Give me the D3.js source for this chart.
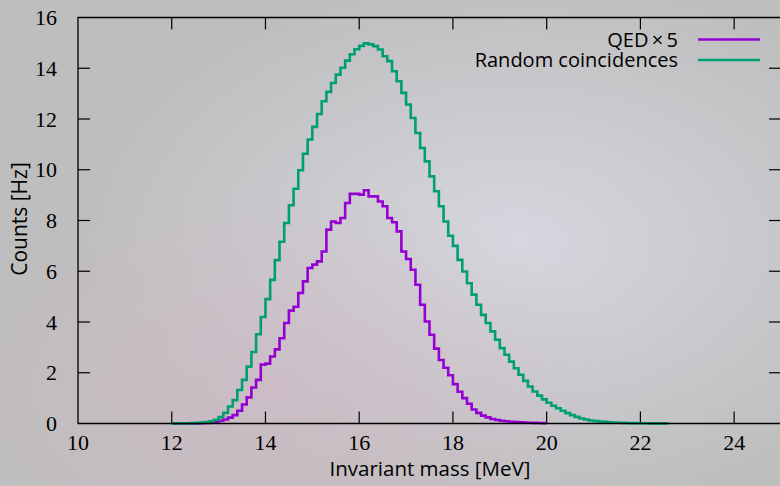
<!DOCTYPE html>
<html>
<head>
<meta charset="utf-8">
<script src="https://cdn.jsdelivr.net/npm/d3@7"></script>
<style>
  html, body { margin: 0; padding: 0; background: #bdbdbd; }
  svg { display: block; }
</style>
</head>
<body>
<div id="chart"></div>
<script>
// histogram bins, 0.1 MeV wide
var binWidth = 0.1;
var qedStart = 12.0;
var qedValues = [
  0.00, 0.00, 0.00, 0.00, 0.00, 0.005, 0.01, 0.02, 0.04, 0.07,
  0.11, 0.16, 0.23, 0.33, 0.50, 0.75, 1.03, 1.42, 1.72, 2.32,
  2.36, 2.64, 2.92, 3.36, 3.96, 4.45, 4.60, 5.14, 5.60, 6.13,
  6.26, 6.39, 6.78, 7.64, 7.96, 7.90, 8.10, 8.69, 9.05, 9.05,
  9.02, 9.19, 8.95, 8.95, 8.75, 8.56, 8.10, 7.93, 7.57, 6.78,
  6.48, 6.06, 5.47, 4.68, 4.02, 3.50, 2.95, 2.50, 2.20, 1.90,
  1.55, 1.25, 1.00, 0.78, 0.55, 0.42, 0.31, 0.24, 0.18, 0.14,
  0.11, 0.09, 0.07, 0.06, 0.05, 0.04, 0.03, 0.025, 0.02, 0.015
];
var randomStart = 12.0;
var randomValues = [
  0.00, 0.003, 0.006, 0.01, 0.016, 0.025, 0.04, 0.06, 0.09, 0.15,
  0.25, 0.42, 0.67, 0.92, 1.32, 1.72, 2.24, 2.82, 3.52, 4.20,
  4.90, 5.66, 6.44, 7.16, 7.90, 8.60, 9.25, 9.98, 10.63, 11.19,
  11.69, 12.20, 12.70, 13.07, 13.42, 13.75, 14.02, 14.30, 14.55, 14.75,
  14.88, 14.98, 14.94, 14.87, 14.74, 14.47, 14.28, 13.88, 13.49, 13.03,
  12.57, 12.04, 11.45, 10.86, 10.33, 9.74, 9.15, 8.56, 7.96, 7.40,
  7.00, 6.45, 5.99, 5.53, 5.08, 4.68, 4.28, 3.96, 3.63, 3.30,
  2.97, 2.71, 2.44, 2.18, 1.92, 1.68, 1.46, 1.26, 1.10, 0.95,
  0.82, 0.70, 0.60, 0.50, 0.41, 0.33, 0.26, 0.20, 0.16, 0.12,
  0.10, 0.08, 0.065, 0.05, 0.04, 0.032, 0.026, 0.02, 0.016, 0.012,
  0.01, 0.008, 0.006, 0.005, 0.004, 0.003
];
var xTicks = [10, 12, 14, 16, 18, 20, 22, 24];
var yTicks = [0, 2, 4, 6, 8, 10, 12, 14, 16];
var seriesNames = ['QED\u2009\u00d7\u20095', 'Random coincidences'];
var seriesColors = ['#9400d3', '#009e73'];

var width = 780, height = 486;
var plotLeft = 78, plotRight = 781, plotTop = 17.5, plotBottom = 423.5;
var tickLen = 12;

var svg = d3.select('#chart').append('svg')
  .attr('width', width)
  .attr('height', height);

// grey backdrop with soft light patches
var defs = svg.append('defs');
var g1 = defs.append('radialGradient').attr('id', 'glow')
  .attr('cx', 0.66).attr('cy', 0.5).attr('r', 0.55);
g1.append('stop').attr('offset', '0%').attr('stop-color', '#d6d7df').attr('stop-opacity', 1);
g1.append('stop').attr('offset', '100%').attr('stop-color', '#d6d7df').attr('stop-opacity', 0);
var g2 = defs.append('radialGradient').attr('id', 'pink')
  .attr('cx', 0.35).attr('cy', 0.8).attr('r', 0.45);
g2.append('stop').attr('offset', '0%').attr('stop-color', '#d2b9c6').attr('stop-opacity', 0.6);
g2.append('stop').attr('offset', '100%').attr('stop-color', '#d2b9c6').attr('stop-opacity', 0);

svg.append('rect').attr('width', width).attr('height', height).attr('fill', '#bebebe');
svg.append('rect').attr('width', width).attr('height', height).attr('fill', 'url(#glow)');
svg.append('rect').attr('width', width).attr('height', height).attr('fill', 'url(#pink)');

var x = d3.scaleLinear().domain([10, 25]).range([plotLeft, plotRight]);
var y = d3.scaleLinear().domain([0, 16]).range([plotBottom, plotTop]);

// ticks, inward, mirrored on top/right
var axes = svg.append('g').attr('stroke', '#000').attr('stroke-width', 1.2);
xTicks.forEach(function(t) {
  if (t === 10) return;
  axes.append('line').attr('x1', x(t)).attr('x2', x(t)).attr('y1', plotBottom).attr('y2', plotBottom - tickLen);
  axes.append('line').attr('x1', x(t)).attr('x2', x(t)).attr('y1', plotTop).attr('y2', plotTop + tickLen);
});
yTicks.forEach(function(t) {
  if (t === 0 || t === 16) return;
  axes.append('line').attr('x1', plotLeft).attr('x2', plotLeft + tickLen).attr('y1', y(t)).attr('y2', y(t));
  axes.append('line').attr('x1', plotRight).attr('x2', plotRight - tickLen).attr('y1', y(t)).attr('y2', y(t));
});

var serif = '"Liberation Serif", "DejaVu Serif", serif';
var sans = '"Open Sans", "DejaVu Sans", sans-serif';

svg.append('g').selectAll('text').data(xTicks).enter().append('text')
  .attr('x', function(d) { return x(d); })
  .attr('y', 450)
  .attr('text-anchor', 'middle')
  .style('font-family', serif).style('font-size', '22px')
  .text(function(d) { return d; });

svg.append('g').selectAll('text').data(yTicks).enter().append('text')
  .attr('x', 57)
  .attr('y', function(d) { return y(d) + 7.5; })
  .attr('text-anchor', 'end')
  .style('font-family', serif).style('font-size', '22px')
  .text(function(d) { return d; });

svg.append('text')
  .attr('transform', 'translate(27,' + 219 + ') rotate(-90)')
  .attr('text-anchor', 'middle')
  .style('font-family', sans).style('font-size', '21px')
  .text('Counts [Hz]');

svg.append('text')
  .attr('x', 430).attr('y', 476)
  .attr('text-anchor', 'middle')
  .style('font-family', sans).style('font-size', '20.5px')
  .text('Invariant mass [MeV]');

// histogram steps
function stepPoints(start, values) {
  var pts = values.map(function(v, i) { return [start + i * binWidth, v]; });
  pts.push([start + values.length * binWidth, values[values.length - 1]]);
  return pts;
}
var line = d3.line()
  .x(function(d) { return x(d[0]); })
  .y(function(d) { return y(d[1]); })
  .curve(d3.curveStepAfter);

var series = [stepPoints(qedStart, qedValues), stepPoints(randomStart, randomValues)];
svg.append('g').selectAll('path').data(series).enter().append('path')
  .attr('d', line)
  .attr('fill', 'none')
  .attr('stroke', function(d, i) { return seriesColors[i]; })
  .attr('stroke-width', 2.6)
  .attr('stroke-linejoin', 'miter');

// border
svg.append('path')
  .attr('d', 'M' + plotRight + ',' + plotTop + 'H' + plotLeft + 'V' + plotBottom + 'H' + plotRight)
  .attr('fill', 'none').attr('stroke', '#000').attr('stroke-width', 1.3);

// legend
var legend = svg.append('g').selectAll('g').data(seriesNames).enter().append('g')
  .attr('transform', function(d, i) { return 'translate(0,' + (39.5 + i * 20.5) + ')'; });
legend.append('text')
  .attr('x', 678).attr('y', 7)
  .attr('text-anchor', 'end')
  .style('font-family', sans).style('font-size', '20px')
  .text(function(d) { return d; });
legend.append('line')
  .attr('x1', 698).attr('x2', 760)
  .attr('stroke', function(d, i) { return seriesColors[i]; })
  .attr('stroke-width', 2.6);
</script>
</body>
</html>
